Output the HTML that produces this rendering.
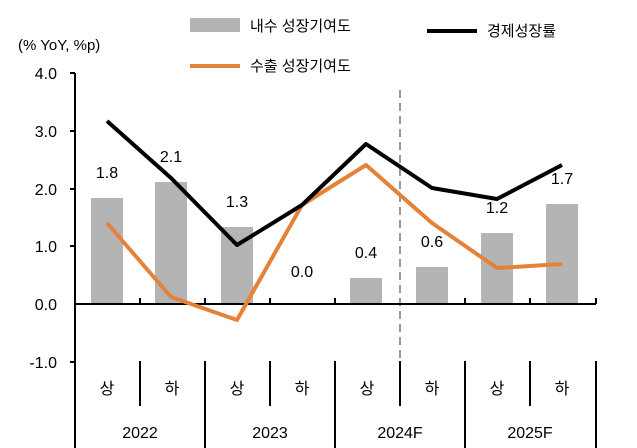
<!DOCTYPE html><html><head><meta charset="utf-8"><style>body{margin:0;background:#fff}svg{display:block}text{font-family:"Liberation Sans","Noto Sans CJK KR",sans-serif;fill:#000}</style></head><body>
<svg width="637" height="448" viewBox="0 0 637 448">
<text x="18" y="50" font-size="15">(% YoY, %p)</text>
<rect x="190" y="18" width="50" height="14" fill="#b4b4b4"/><text x="250" y="31" font-size="15">내수 성장기여도</text>
<line x1="427" y1="31" x2="477" y2="31" stroke="#000" stroke-width="4"/><text x="487" y="36" font-size="15">경제성장률</text>
<line x1="190" y1="66" x2="240" y2="66" stroke="#e5823a" stroke-width="4"/><text x="250" y="71" font-size="15">수출 성장기여도</text>
<g font-size="16" text-anchor="end"><text x="57" y="79">4.0</text><text x="57" y="137">3.0</text><text x="57" y="195">2.0</text><text x="57" y="252">1.0</text><text x="57" y="310">0.0</text><text x="57" y="368">-1.0</text></g>
<g stroke="#000" stroke-width="2"><line x1="75" y1="73" x2="75" y2="448"/>
<line x1="70" y1="73" x2="75" y2="73"/><line x1="70" y1="131" x2="75" y2="131"/><line x1="70" y1="189" x2="75" y2="189"/><line x1="70" y1="246" x2="75" y2="246"/><line x1="70" y1="362" x2="75" y2="362"/></g>
<g fill="#b4b4b4"><rect x="91" y="198" width="32" height="106"/><rect x="155" y="182" width="32" height="122"/><rect x="221" y="227" width="32" height="77"/><rect x="350" y="278" width="32" height="26"/><rect x="416" y="267" width="32" height="37"/><rect x="481" y="233" width="32" height="71"/><rect x="546" y="204" width="32" height="100"/></g>
<line x1="400" y1="90" x2="400" y2="365" stroke="#999" stroke-width="2" stroke-dasharray="8,5"/>
<g stroke="#000" stroke-width="2"><line x1="75" y1="304" x2="596" y2="304"/>
<line x1="140" y1="304" x2="140" y2="298"/><line x1="205" y1="304" x2="205" y2="298"/><line x1="270" y1="304" x2="270" y2="298"/><line x1="335" y1="304" x2="335" y2="298"/><line x1="465" y1="304" x2="465" y2="298"/><line x1="530" y1="304" x2="530" y2="298"/><line x1="596" y1="304" x2="596" y2="298"/>
<line x1="140" y1="361" x2="140" y2="406"/><line x1="270" y1="361" x2="270" y2="406"/><line x1="400" y1="361" x2="400" y2="406"/><line x1="530" y1="361" x2="530" y2="406"/>
<line x1="205" y1="361" x2="205" y2="448"/><line x1="335" y1="361" x2="335" y2="448"/><line x1="465" y1="361" x2="465" y2="448"/><line x1="596" y1="361" x2="596" y2="448"/></g>
<polyline points="107,223 171,297 237,320 302,205 366,165 432,223 497,268 562,264" fill="none" stroke="#e5823a" stroke-width="4" stroke-linejoin="round"/>
<polyline points="107,121 171,178 237,245 302,205 366,144 432,188 497,199 562,165" fill="none" stroke="#000" stroke-width="4" stroke-linejoin="round"/>
<g font-size="16" text-anchor="middle"><text x="107" y="178">1.8</text><text x="171" y="162">2.1</text><text x="237" y="207">1.3</text><text x="302" y="277">0.0</text><text x="366" y="258">0.4</text><text x="432" y="247">0.6</text><text x="497" y="213">1.2</text><text x="562" y="184">1.7</text>
<text x="107" y="394">상</text><text x="172" y="394">하</text><text x="237" y="394">상</text><text x="302" y="394">하</text><text x="367" y="394">상</text><text x="432" y="394">하</text><text x="497" y="394">상</text><text x="562" y="394">하</text>
<text x="140" y="438">2022</text><text x="270" y="438">2023</text><text x="400" y="438">2024F</text><text x="530" y="438">2025F</text></g>
</svg></body></html>
